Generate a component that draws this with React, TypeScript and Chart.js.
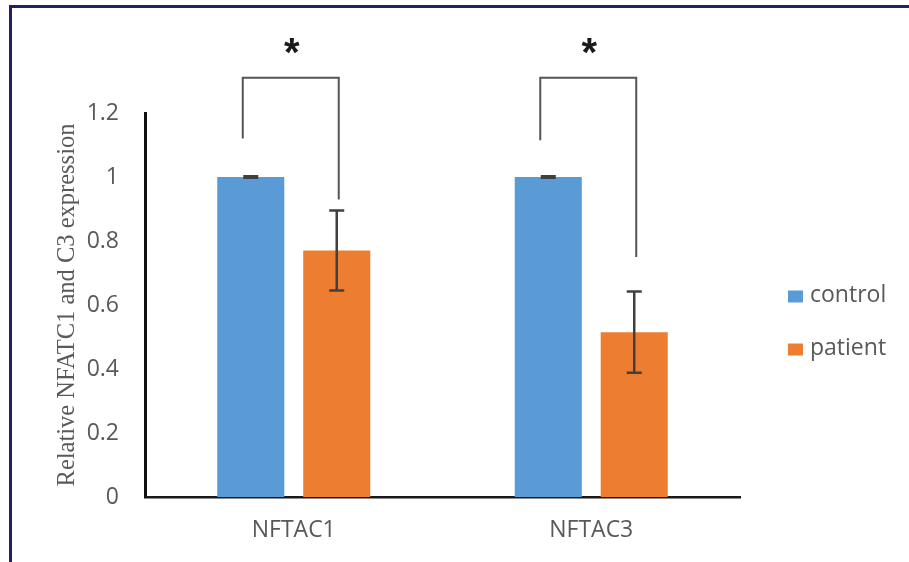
import { useEffect, useRef } from 'react';
import { Chart, registerables } from 'chart.js';

Chart.register(...registerables);

const categories = ['NFTAC1', 'NFTAC3'];
const seriesNames = ['control', 'patient'];
const controlValues = [1.0, 1.0];
const controlErrors = [0.002, 0.002];
const patientValues = [0.77, 0.515];
const patientErrors = [0.125, 0.127];
const yTicks = [0, 0.2, 0.4, 0.6, 0.8, 1, 1.2];
const yTickLabels = ['0', '0.2', '0.4', '0.6', '0.8', '1', '1.2'];
const yTitle = 'Relative NFATC1 and C3 expression';
const sigMarks = ['*', '*'];
const sigBracketTop = [1.31, 1.31];
const sigLeftEnd = [1.12, 1.115];
const sigRightEnd = [0.93, 0.75];
const sigStarLevel = [1.41, 1.41];

const seriesColors = ['#5B9BD5', '#ED7D31'];
const textColor = '#595959';
const sansFamily = "'Open Sans', 'Liberation Sans', sans-serif";

const errorPlugin = {
  id: 'errorBars',
  afterDatasetsDraw(chart: any) {
    const ctx = chart.ctx;
    const yScale = chart.scales.y;
    const errs = [controlErrors, patientErrors];
    ctx.save();
    ctx.strokeStyle = '#404040';
    ctx.lineWidth = 2.5;
    chart.data.datasets.forEach((ds: any, di: number) => {
      const meta = chart.getDatasetMeta(di);
      meta.data.forEach((bar: any, i: number) => {
        const v = ds.data[i];
        const e = errs[di][i];
        const yTop = yScale.getPixelForValue(v + e);
        const yBot = yScale.getPixelForValue(v - e);
        const x = bar.x;
        const cap = 7.5;
        ctx.beginPath();
        ctx.moveTo(x, yTop);
        ctx.lineTo(x, yBot);
        ctx.moveTo(x - cap, yTop);
        ctx.lineTo(x + cap, yTop);
        ctx.moveTo(x - cap, yBot);
        ctx.lineTo(x + cap, yBot);
        ctx.stroke();
      });
    });
    // significance brackets
    const m0 = chart.getDatasetMeta(0);
    const m1 = chart.getDatasetMeta(1);
    ctx.strokeStyle = '#555555';
    ctx.lineWidth = 2;
    categories.forEach((_c, i) => {
      const xl = m0.data[i].x - 8;
      const xr = m1.data[i].x + 2;
      const yt = yScale.getPixelForValue(sigBracketTop[i]);
      const yl = yScale.getPixelForValue(sigLeftEnd[i]);
      const yr = yScale.getPixelForValue(sigRightEnd[i]);
      ctx.beginPath();
      ctx.moveTo(xl, yl);
      ctx.lineTo(xl, yt);
      ctx.lineTo(xr, yt);
      ctx.lineTo(xr, yr);
      ctx.stroke();
      const ys = yScale.getPixelForValue(sigStarLevel[i]);
      ctx.fillStyle = '#1a1a1a';
      ctx.font = "bold 40px 'Liberation Sans', sans-serif";
      ctx.textAlign = 'center';
      ctx.textBaseline = 'alphabetic';
      const m = ctx.measureText(sigMarks[i]);
      const asc = m.actualBoundingBoxAscent;
      const desc = m.actualBoundingBoxDescent;
      ctx.fillText(sigMarks[i], (xl + xr) / 2 + 1, ys + (asc - desc) / 2);
    });
    ctx.restore();
  },
};

const legendPlugin = {
  id: 'sideLegend',
  afterDraw(chart: any) {
    const ctx = chart.ctx;
    const area = chart.chartArea;
    const mid = (area.top + area.bottom) / 2 + 18;
    ctx.save();
    ctx.font = `23px ${sansFamily}`;
    ctx.textBaseline = 'middle';
    ctx.textAlign = 'left';
    chart.data.datasets.forEach((ds: any, i: number) => {
      const cy = mid + (i - 0.5) * 53;
      const bx = area.right + 48;
      ctx.fillStyle = ds.backgroundColor;
      ctx.fillRect(bx, cy - 6, 15, 12);
      ctx.fillStyle = textColor;
      ctx.fillText(ds.label, bx + 22, cy - 1);
    });
    ctx.restore();
  },
};

export default function App() {
  const ref = useRef<HTMLCanvasElement | null>(null);
  useEffect(() => {
    if (!ref.current) return;
    const chart = new Chart(ref.current, {
      type: 'bar',
      data: {
        labels: categories,
        datasets: [
          {
            label: seriesNames[0],
            data: controlValues,
            backgroundColor: seriesColors[0],
            barPercentage: 0.78,
            categoryPercentage: 0.578,
          },
          {
            label: seriesNames[1],
            data: patientValues,
            backgroundColor: seriesColors[1],
            barPercentage: 0.78,
            categoryPercentage: 0.578,
          },
        ],
      },
      options: {
        responsive: true,
        maintainAspectRatio: false,
        animation: false,
        layout: { padding: { left: 40, right: 169, top: 113, bottom: 0 } },
        plugins: {
          legend: { display: false },
          tooltip: { enabled: false },
        },
        scales: {
          x: {
            grid: { display: false, drawTicks: false },
            border: { display: true, color: '#1a1a1a', width: 2.5 },
            ticks: {
              font: { family: sansFamily, size: 23 },
              color: textColor,
              padding: 20,
            },
            afterFit: (s: any) => {
              s.height = 65;
            },
          },
          y: {
            min: 0,
            max: 1.2,
            afterBuildTicks: (s: any) => {
              s.ticks = yTicks.map((v) => ({ value: v }));
            },
            ticks: {
              callback: (_v: any, idx: number) => yTickLabels[idx],
              padding: 26,
              font: { family: sansFamily, size: 23 },
              color: textColor,
            },
            grid: { display: false, drawTicks: false },
            border: { display: true, color: '#111111', width: 3 },
            title: {
              display: true,
              text: yTitle,
              font: { family: "'Liberation Serif', serif", size: 24.5 },
              color: textColor,
              padding: { top: 13, bottom: 0 },
            },
            afterFit: (s: any) => {
              s.width = 105;
            },
          },
        },
      },
      plugins: [errorPlugin, legendPlugin],
    });
    return () => chart.destroy();
  }, []);

  return (
    <div style={{ position: 'absolute', left: 0, top: 0, width: 909, height: 562, background: '#fff' }}>
      <div
        style={{
          position: 'absolute',
          left: 9,
          top: 5,
          right: 0,
          bottom: 0,
          borderTop: '3px solid #23206b',
          borderLeft: '3px solid #23206b',
        }}
      />
      <div style={{ position: 'absolute', left: 0, top: 0, width: 909, height: 562 }}>
        <canvas ref={ref} />
      </div>
    </div>
  );
}
